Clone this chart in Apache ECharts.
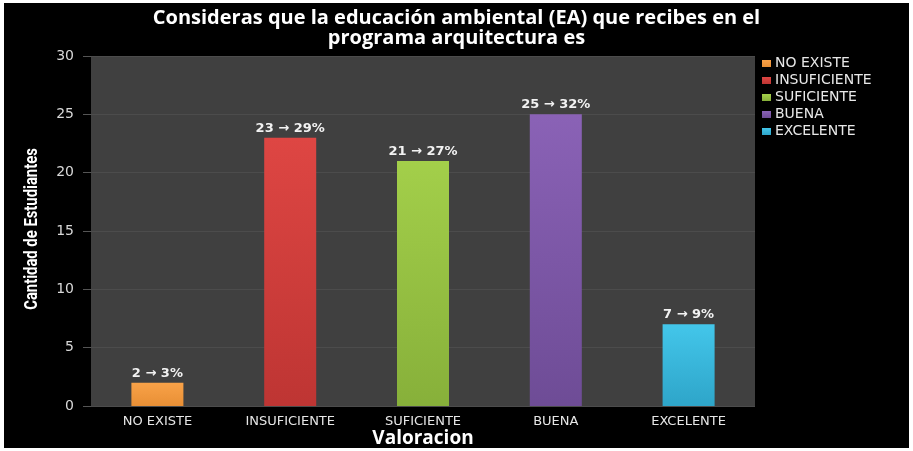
<!DOCTYPE html>
<html>
<head>
<meta charset="utf-8">
<script src="https://cdn.jsdelivr.net/npm/echarts@6/dist/echarts.min.js"></script>
<style>
  html, body { margin: 0; padding: 0; background: #fff; }
  #chart { position: absolute; left: 4px; top: 3px; width: 905px; height: 445px; }
</style>
</head>
<body>
<div id="chart"></div>
<script>
// datos
const categorias = ["NO EXISTE", "INSUFICIENTE", "SUFICIENTE", "BUENA", "EXCELENTE"];
const cantidades = [2, 23, 21, 25, 7];
const porcentajes = [3, 29, 27, 32, 9];
const colores = [
  ["#F9A248", "#E88F35"],
  ["#DE4643", "#BE3533"],
  ["#A3CF4A", "#87B03A"],
  ["#8A62B6", "#6E4C96"],
  ["#43C6EA", "#2EA5C9"]
];

const chart = echarts.init(document.getElementById("chart"));

const series = categorias.map((cat, i) => ({
  name: cat,
  type: "bar",
  stack: "total",
  barWidth: 52,
  data: categorias.map((c, j) => (j === i ? cantidades[i] : "-")),
  itemStyle: {
    color: new echarts.graphic.LinearGradient(0, 0, 0, 1, [
      { offset: 0, color: colores[i][0] },
      { offset: 1, color: colores[i][1] }
    ])
  },
  label: {
    show: true,
    position: "top",
    distance: 3,
    color: "#f2f2f2",
    fontFamily: "DejaVu Sans",
    fontWeight: "bold",
    fontSize: 13,
    formatter: () => cantidades[i] + " \u2192 " + porcentajes[i] + "%"
  }
}));

const option = {
  backgroundColor: "#000",
  animation: false,
  title: {
    text: "Consideras que la educación ambiental (EA) que recibes en el\nprograma arquitectura es",
    left: "center",
    top: 0,
    textStyle: {
      color: "#fff",
      fontFamily: "Open Sans",
      fontWeight: "bold",
      fontSize: 20,
      lineHeight: 20
    }
  },
  legend: {
    orient: "vertical",
    left: 753,
    top: 48,
    itemWidth: 9,
    itemHeight: 7,
    itemGap: 2,
    icon: "rect",
    textStyle: {
      color: "#e8e8e8",
      fontFamily: "DejaVu Sans",
      fontSize: 14,
      lineHeight: 15,
      padding: [0, 0, 0, -1]
    },
    data: categorias
  },
  graphic: [{
    type: "text",
    x: 28,
    y: 226,
    rotation: Math.PI / 2,
    scaleX: 0.78,
    style: {
      text: "Cantidad de Estudiantes",
      fill: "#fff",
      font: "bold 19px Roboto",
      align: "center",
      verticalAlign: "middle"
    }
  }],
  grid: {
    left: 87,
    top: 53,
    right: 154,
    bottom: 42,
    outerBoundsMode: "none",
    show: true,
    backgroundColor: "#404040",
    borderWidth: 0
  },
  xAxis: {
    type: "category",
    data: categorias,
    name: "Valoracion",
    nameLocation: "middle",
    nameGap: 23,
    nameMoveOverlap: false,
    nameTextStyle: {
      color: "#fff",
      fontFamily: "Open Sans",
      fontWeight: "bold",
      fontSize: 19,
      verticalAlign: "top"
    },
    axisLine: { show: false },
    axisTick: { show: false },
    axisLabel: {
      color: "#e6e6e6",
      fontFamily: "DejaVu Sans",
      fontSize: 13,
      margin: 9
    }
  },
  yAxis: {
    type: "value",
    min: 0,
    max: 30,
    interval: 5,
    axisLine: { show: false },
    axisTick: { show: true, length: 8, lineStyle: { color: "#555" } },
    axisLabel: {
      color: "#d8d8d8",
      fontFamily: "DejaVu Sans",
      fontSize: 14,
      margin: 17
    },
    splitLine: { lineStyle: { color: "#4c4c4c", width: 1 } }
  },
  series: series
};

chart.setOption(option);
</script>
</body>
</html>
